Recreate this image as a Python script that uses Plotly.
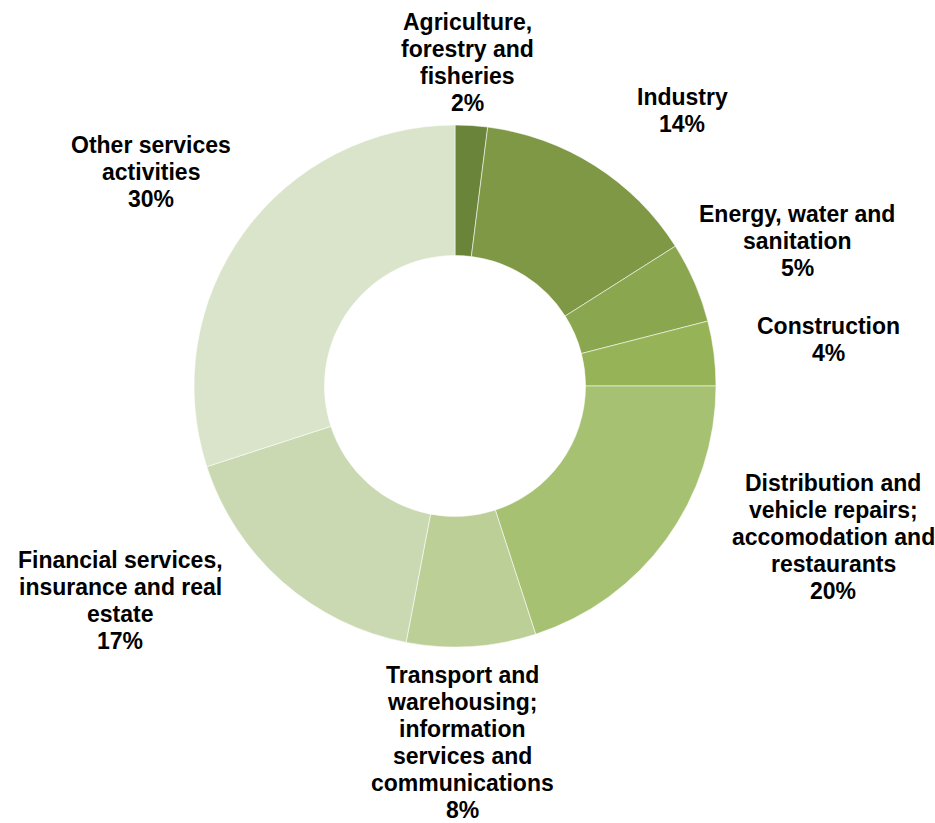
import plotly.graph_objects as go

# Sector names (line breaks as displayed) and their shares, in percent
sectors = [
    "Agriculture,<br>forestry and<br>fisheries",
    "Industry",
    "Energy, water and<br>sanitation",
    "Construction",
    "Distribution and<br>vehicle repairs;<br>accomodation and<br>restaurants",
    "Transport and<br>warehousing;<br>information<br>services and<br>communications",
    "Financial services,<br>insurance and real<br>estate",
    "Other services<br>activities",
]
shares = [2, 14, 5, 4, 20, 8, 17, 30]

slice_colors = [
    "#6a8439", "#7e9846", "#8aa64f", "#96b358",
    "#a6c171", "#bbcf97", "#cad9b1", "#dae4ca",
]

# Centre x and first-line centre y of each label block, in pixels
label_px = [
    (467, 22), (682, 97), (797, 214), (828, 326),
    (833, 483), (462, 675), (120, 560), (151, 145),
]
LINE_STEP = 26.9  # pixel distance between label lines

W, H = 935, 823
cx, cy, r = 455, 386, 261

fig = go.Figure(
    go.Pie(
        labels=[s.replace("<br>", " ") for s in sectors],
        values=shares,
        hole=0.5,
        sort=False,
        direction="clockwise",
        rotation=0,
        textinfo="none",
        marker=dict(colors=slice_colors, line=dict(color="rgba(255,255,255,0.7)", width=0.8)),
        domain=dict(
            x=[(cx - r) / W, (cx + r) / W],
            y=[(H - cy - r) / H, (H - cy + r) / H],
        ),
        showlegend=False,
        hoverinfo="label+percent",
    )
)

label_font = dict(family="Liberation Sans, Arial, sans-serif", size=23, color="#000000")

for name, val, (px, py) in zip(sectors, shares, label_px):
    lines = name.split("<br>") + [f"{val}%"]
    for i, line in enumerate(lines):
        fig.add_annotation(
            x=px / W, y=1 - (py + i * LINE_STEP) / H,
            xref="paper", yref="paper",
            xanchor="center", yanchor="middle",
            text=f"<b>{line}</b>",
            showarrow=False, align="center",
            font=label_font,
        )

fig.update_layout(
    width=W, height=H,
    margin=dict(l=0, r=0, t=0, b=0),
    paper_bgcolor="white", plot_bgcolor="white",
)

fig.write_html("out.html")
